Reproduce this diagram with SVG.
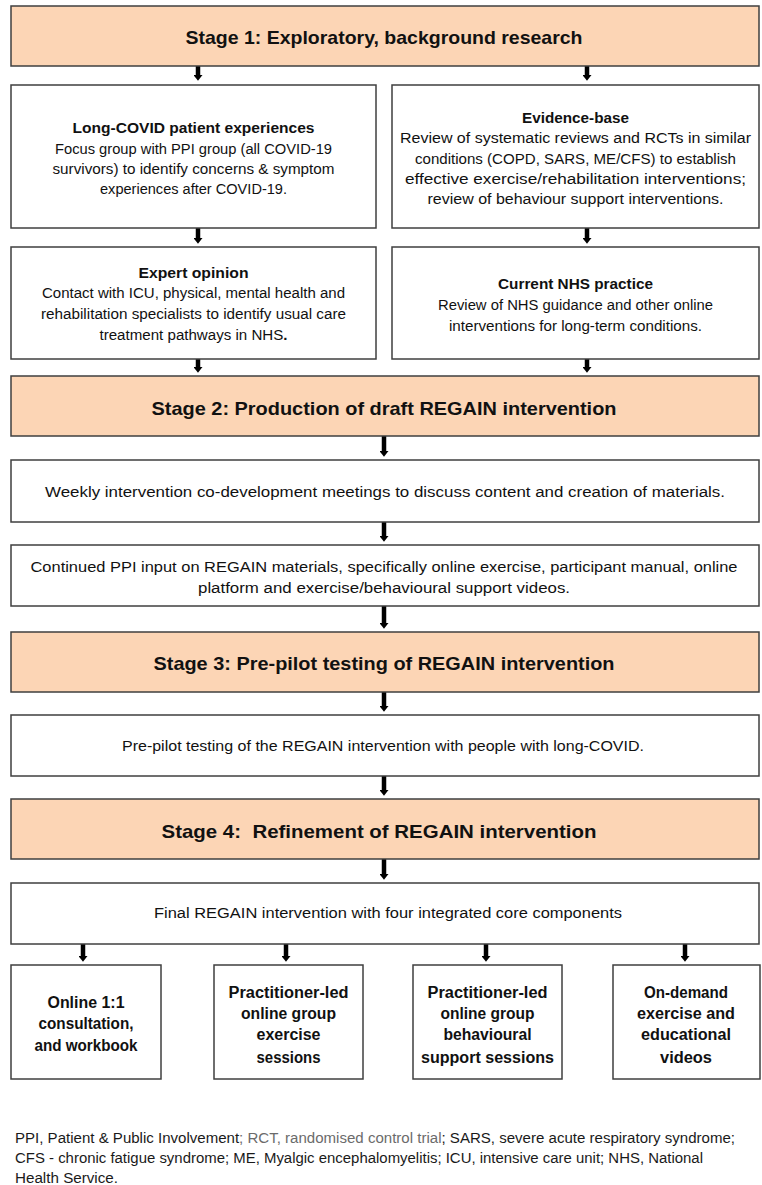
<svg xmlns="http://www.w3.org/2000/svg" width="762" height="1185" viewBox="0 0 762 1185">
<style>
.box{fill:#ffffff;stroke:#3f3f3f;stroke-width:1.5}
.stage{fill:#fcd5b5;stroke:#3f3f3f;stroke-width:1.5}
text{font-family:"Liberation Sans",Arial,sans-serif;fill:#111;text-anchor:middle}
.st{font-size:19px;font-weight:bold}
.h{font-size:15px;font-weight:bold}
.b{font-size:14px}
.bb{font-size:16px;font-weight:bold}
.fn{font-size:14px;text-anchor:start;fill:#1a1a1a}
.arr{stroke:#000;stroke-width:4.5;fill:none;marker-end:url(#ah)}
</style>
<defs>
<marker id="ah" markerUnits="userSpaceOnUse" markerWidth="14" markerHeight="9" refX="0" refY="7" orient="auto" viewBox="0 0 9 14">
<path d="M0,0 L9,7 L0,14 z" fill="#000"/>
</marker>
</defs>
<rect width="762" height="1185" fill="#fff"/>

<g id="connectors">
<line class="arr" x1="198" y1="66" x2="198" y2="75"/>
<line class="arr" x1="587" y1="66" x2="587" y2="75"/>
<line class="arr" x1="198" y1="228" x2="198" y2="238"/>
<line class="arr" x1="587" y1="228" x2="587" y2="238"/>
<line class="arr" x1="198" y1="359" x2="198" y2="367"/>
<line class="arr" x1="587" y1="359" x2="587" y2="367"/>
<line class="arr" x1="384" y1="436" x2="384" y2="451"/>
<line class="arr" x1="384" y1="522" x2="384" y2="536"/>
<line class="arr" x1="384" y1="606" x2="384" y2="623"/>
<line class="arr" x1="384" y1="692" x2="384" y2="706"/>
<line class="arr" x1="384" y1="776" x2="384" y2="790"/>
<line class="arr" x1="384" y1="859" x2="384" y2="874"/>
<line class="arr" x1="83" y1="944" x2="83" y2="956"/>
<line class="arr" x1="286" y1="944" x2="286" y2="956"/>
<line class="arr" x1="486" y1="944" x2="486" y2="956"/>
<line class="arr" x1="685" y1="944" x2="685" y2="956"/>
</g>

<g id="stage1">
<rect class="stage" x="11" y="6" width="748" height="60"/>
<text class="st" x="384" y="44" textLength="397" lengthAdjust="spacingAndGlyphs">Stage 1: Exploratory, background research</text>
</g>

<g id="patient-experiences">
<rect class="box" x="11" y="85" width="365" height="143"/>
<text class="h" x="193.5" y="133" textLength="242" lengthAdjust="spacingAndGlyphs">Long-COVID patient experiences</text>
<text class="b" x="193.5" y="154" textLength="277" lengthAdjust="spacingAndGlyphs">Focus group with PPI group (all COVID-19</text>
<text class="b" x="193.5" y="174" textLength="282" lengthAdjust="spacingAndGlyphs">survivors) to identify concerns &amp; symptom</text>
<text class="b" x="193.5" y="194" textLength="187" lengthAdjust="spacingAndGlyphs">experiences after COVID-19.</text>
</g>

<g id="evidence-base">
<rect class="box" x="392" y="85" width="367" height="143"/>
<text class="h" x="575.5" y="123" textLength="107" lengthAdjust="spacingAndGlyphs">Evidence-base</text>
<text class="b" x="575.5" y="143" textLength="351" lengthAdjust="spacingAndGlyphs">Review of systematic reviews and RCTs in similar</text>
<text class="b" x="575.5" y="164" textLength="321" lengthAdjust="spacingAndGlyphs">conditions (COPD, SARS, ME/CFS) to establish</text>
<text class="b" x="575.5" y="184" textLength="341" lengthAdjust="spacingAndGlyphs">effective exercise/rehabilitation interventions;</text>
<text class="b" x="575.5" y="204" textLength="296" lengthAdjust="spacingAndGlyphs">review of behaviour support interventions.</text>
</g>

<g id="expert-opinion">
<rect class="box" x="11" y="247" width="365" height="112"/>
<text class="h" x="193.5" y="278" textLength="110" lengthAdjust="spacingAndGlyphs">Expert opinion</text>
<text class="b" x="193.5" y="298" textLength="303" lengthAdjust="spacingAndGlyphs">Contact with ICU, physical, mental health and</text>
<text class="b" x="193.5" y="319" textLength="305" lengthAdjust="spacingAndGlyphs">rehabilitation specialists to identify usual care</text>
<text class="b" x="193.5" y="340" textLength="188" lengthAdjust="spacingAndGlyphs">treatment pathways in NHS<tspan font-weight="bold">.</tspan></text>
</g>

<g id="current-nhs-practice">
<rect class="box" x="392" y="247" width="367" height="112"/>
<text class="h" x="575.5" y="289" textLength="155" lengthAdjust="spacingAndGlyphs">Current NHS practice</text>
<text class="b" x="575.5" y="310" textLength="275" lengthAdjust="spacingAndGlyphs">Review of NHS guidance and other online</text>
<text class="b" x="575.5" y="331" textLength="253" lengthAdjust="spacingAndGlyphs">interventions for long-term conditions.</text>
</g>

<g id="stage2">
<rect class="stage" x="11" y="376" width="748" height="60"/>
<text class="st" x="384" y="415" textLength="465" lengthAdjust="spacingAndGlyphs">Stage 2: Production of draft REGAIN intervention</text>
</g>

<g id="weekly-meetings">
<rect class="box" x="11" y="460" width="748" height="62"/>
<text class="b" x="385" y="497" textLength="680" lengthAdjust="spacingAndGlyphs">Weekly intervention co-development meetings to discuss content and creation of materials.</text>
</g>

<g id="ppi-input">
<rect class="box" x="11" y="545" width="748" height="61"/>
<text class="b" x="384" y="572" textLength="707" lengthAdjust="spacingAndGlyphs">Continued PPI input on REGAIN materials, specifically online exercise, participant manual, online</text>
<text class="b" x="384" y="593" textLength="372" lengthAdjust="spacingAndGlyphs">platform and exercise/behavioural support videos.</text>
</g>

<g id="stage3">
<rect class="stage" x="11" y="632" width="748" height="60"/>
<text class="st" x="384" y="670" textLength="461" lengthAdjust="spacingAndGlyphs">Stage 3: Pre-pilot testing of REGAIN intervention</text>
</g>

<g id="pre-pilot">
<rect class="box" x="11" y="715" width="748" height="61"/>
<text class="b" x="383" y="751" textLength="522" lengthAdjust="spacingAndGlyphs">Pre-pilot testing of the REGAIN intervention with people with long-COVID.</text>
</g>

<g id="stage4">
<rect class="stage" x="11" y="799" width="748" height="60"/>
<text class="st" x="379" y="838" textLength="435" lengthAdjust="spacingAndGlyphs" xml:space="preserve">Stage 4:  Refinement of REGAIN intervention</text>
</g>

<g id="final-intervention">
<rect class="box" x="11" y="883" width="748" height="61"/>
<text class="b" x="388" y="918" textLength="468" lengthAdjust="spacingAndGlyphs">Final REGAIN intervention with four integrated core components</text>
</g>

<g id="component-1">
<rect class="box" x="11" y="965" width="150" height="114"/>
<text class="bb" x="86" y="1008" textLength="77" lengthAdjust="spacingAndGlyphs">Online 1:1</text>
<text class="bb" x="86" y="1029" textLength="95" lengthAdjust="spacingAndGlyphs">consultation,</text>
<text class="bb" x="86" y="1051" textLength="103" lengthAdjust="spacingAndGlyphs">and workbook</text>
</g>

<g id="component-2">
<rect class="box" x="214" y="965" width="149" height="114"/>
<text class="bb" x="288.5" y="998" textLength="120" lengthAdjust="spacingAndGlyphs">Practitioner-led</text>
<text class="bb" x="288.5" y="1019" textLength="95" lengthAdjust="spacingAndGlyphs">online group</text>
<text class="bb" x="288.5" y="1040" textLength="64" lengthAdjust="spacingAndGlyphs">exercise</text>
<text class="bb" x="288.5" y="1063" textLength="64" lengthAdjust="spacingAndGlyphs">sessions</text>
</g>

<g id="component-3">
<rect class="box" x="413" y="965" width="149" height="114"/>
<text class="bb" x="487.5" y="998" textLength="120" lengthAdjust="spacingAndGlyphs">Practitioner-led</text>
<text class="bb" x="487.5" y="1019" textLength="94" lengthAdjust="spacingAndGlyphs">online group</text>
<text class="bb" x="487.5" y="1040" textLength="88" lengthAdjust="spacingAndGlyphs">behavioural</text>
<text class="bb" x="487.5" y="1063" textLength="133" lengthAdjust="spacingAndGlyphs">support sessions</text>
</g>

<g id="component-4">
<rect class="box" x="613" y="965" width="147" height="114"/>
<text class="bb" x="686" y="998" textLength="84" lengthAdjust="spacingAndGlyphs">On-demand</text>
<text class="bb" x="686" y="1019" textLength="98" lengthAdjust="spacingAndGlyphs">exercise and</text>
<text class="bb" x="686" y="1040" textLength="90" lengthAdjust="spacingAndGlyphs">educational</text>
<text class="bb" x="686" y="1063" textLength="52" lengthAdjust="spacingAndGlyphs">videos</text>
</g>

<g id="footnote">
<text class="fn" x="15" y="1143" textLength="720" lengthAdjust="spacingAndGlyphs">PPI, Patient &amp; Public Involvement<tspan fill="#6b6b6b">; RCT, randomised control trial</tspan>; SARS, severe acute respiratory syndrome;</text>
<text class="fn" x="15" y="1163" textLength="688" lengthAdjust="spacingAndGlyphs">CFS - chronic fatigue syndrome; ME, Myalgic encephalomyelitis; ICU, intensive care unit; NHS, National</text>
<text class="fn" x="15" y="1183" textLength="103" lengthAdjust="spacingAndGlyphs">Health Service.</text>
</g>
</svg>
